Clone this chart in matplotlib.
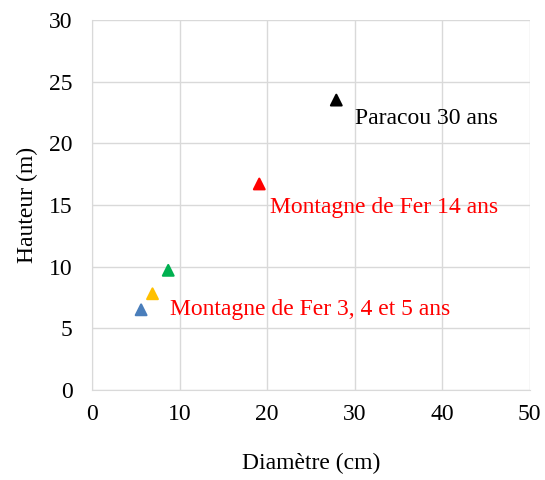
import matplotlib.pyplot as plt

plt.rcParams['font.family'] = ['Liberation Serif', 'DejaVu Serif']

diam = [5.6, 6.9, 8.7, 19.1, 27.9]
haut = [6.5, 7.8, 9.7, 16.7, 23.5]
colors = ['#4a7ebb', '#ffc000', '#00b050', '#ff0000', '#000000']

labels = ['Paracou 30 ans', 'Montagne de Fer 14 ans', 'Montagne de Fer 3, 4 et 5 ans']
label_x = [30.0, 20.3, 8.9]
label_y = [22.0, 14.8, 6.5]
label_colors = ['black', 'red', 'red']

fig = plt.figure(figsize=(5.45, 4.8), dpi=100)
ax = fig.add_axes([0.169, 0.1875, 0.803, 0.771])

ax.scatter(diam, haut, marker='^', s=60, c=colors, zorder=3,
           edgecolors=colors, linewidths=1.5)

for t, x, y, c in zip(labels, label_x, label_y, label_colors):
    ax.text(x, y, t, color=c, fontsize=17, va='center', ha='left')

ax.set_xlim(0, 50)
ax.set_ylim(0, 30)
ax.set_xticks(range(0, 51, 10))
ax.set_yticks(range(0, 31, 5))
ax.grid(True, color='#d9d9d9', linewidth=1)
ax.set_axisbelow(True)
for s in ['top', 'right']:
    ax.spines[s].set_visible(False)
for s in ['left', 'bottom']:
    ax.spines[s].set_color('#d9d9d9')
ax.tick_params(length=0, labelsize=17)
ax.tick_params(axis='x', pad=10)
ax.tick_params(axis='y', pad=14)
ax.set_xlabel('Diamètre (cm)', fontsize=17, labelpad=20)
ax.set_ylabel('Hauteur (m)', fontsize=17, labelpad=8)

fig.savefig('out.png', dpi=100)
